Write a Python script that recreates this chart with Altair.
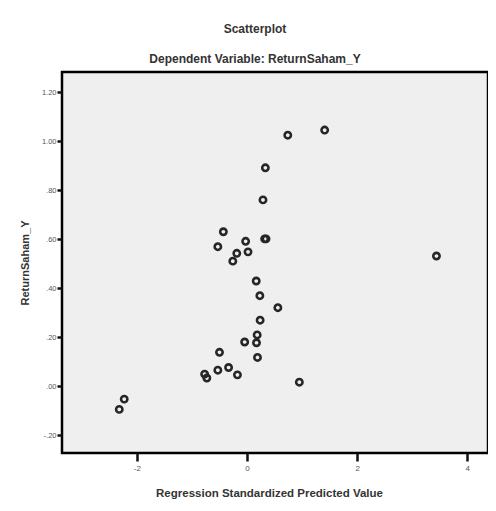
import altair as alt
import pandas as pd

# Regression standardized predicted value (x) and ReturnSaham_Y (y)
pred = [0.74, 1.41, 0.333, 0.29, -0.43, -0.53, -0.025, 0.018, -0.186, -0.258,
        0.32, 0.345, 0.167, 0.233, 0.56, 0.238, 0.184, 0.172, -0.043, 0.19,
        -0.50, -0.53, -0.335, -0.174, -0.77, -0.73, 0.95, -2.23, -2.32, 3.44]
ret = [1.024, 1.045, 0.891, 0.760, 0.630, 0.569, 0.591, 0.548, 0.542, 0.510,
       0.601, 0.601, 0.429, 0.369, 0.320, 0.269, 0.209, 0.177, 0.180, 0.117,
       0.138, 0.065, 0.076, 0.046, 0.049, 0.033, 0.016, -0.053, -0.095, 0.531]

x_ticks = [-2, 0, 2, 4]
y_ticks = [-0.2, 0.0, 0.2, 0.4, 0.6, 0.8, 1.0, 1.2]

df = pd.DataFrame({"pred": pred, "ret": ret})

W, H = 426, 381
FONT = "Liberation Sans"

ylabel_expr = ("datum.value < 0 ? '-' + replace(format(abs(datum.value), '.2f'), /^0/, '') : "
               "(datum.value >= 1 ? format(datum.value, '.2f') : replace(format(datum.value, '.2f'), /^0/, ''))")
xlabel_expr = "toString(datum.value)"

chart = alt.Chart(df).mark_point(
    filled=False, size=40, strokeWidth=2.6, color="#262626", opacity=1
).encode(
    x=alt.X("pred:Q",
            scale=alt.Scale(domain=[-3.36, 4.376], nice=False, zero=False),
            axis=alt.Axis(values=x_ticks, labelExpr=xlabel_expr, grid=False, domain=False,
                          tickSize=8, tickWidth=2.5, tickColor="#111",
                          labelFontSize=8, labelColor="#555", labelFont=FONT, labelPadding=3,
                          title="Regression Standardized Predicted Value",
                          titleFont=FONT, titleFontSize=11.5, titleFontWeight="bold",
                          titleColor="#333", titleX=W / 2 - 6, titleY=40,
                          titleBaseline="middle")),
    y=alt.Y("ret:Q",
            scale=alt.Scale(domain=[-0.273, 1.282], nice=False, zero=False),
            axis=alt.Axis(values=y_ticks, labelExpr=ylabel_expr, grid=False, domain=False,
                          tickSize=5, tickWidth=2.5, tickColor="#111",
                          labelFontSize=7.5, labelColor="#555", labelFont=FONT, labelPadding=1,
                          title="ReturnSaham_Y",
                          titleFont=FONT, titleFontSize=11, titleFontWeight="bold",
                          titleColor="#333", titleX=-37, titleY=H / 2,
                          titleAngle=-90, titleBaseline="middle")),
).properties(
    width=W, height=H,
    background="white",
    title=alt.TitleParams(
        "Scatterplot",
        subtitle="Dependent Variable: ReturnSaham_Y",
        font=FONT, fontSize=12, fontWeight="bold", color="#333",
        subtitleFont=FONT, subtitleFontSize=12, subtitleFontWeight="bold",
        subtitleColor="#333", subtitlePadding=18, dx=-20, offset=6, anchor="middle"),
    padding={"left": 54, "top": 64, "right": 0, "bottom": 48},
    autosize=alt.AutoSizeParams(type="none"),
).configure_view(
    fill="#efefef", stroke="#000", strokeWidth=2.5
)

chart.save("out.html", embed_options={"renderer": "svg", "actions": False})
